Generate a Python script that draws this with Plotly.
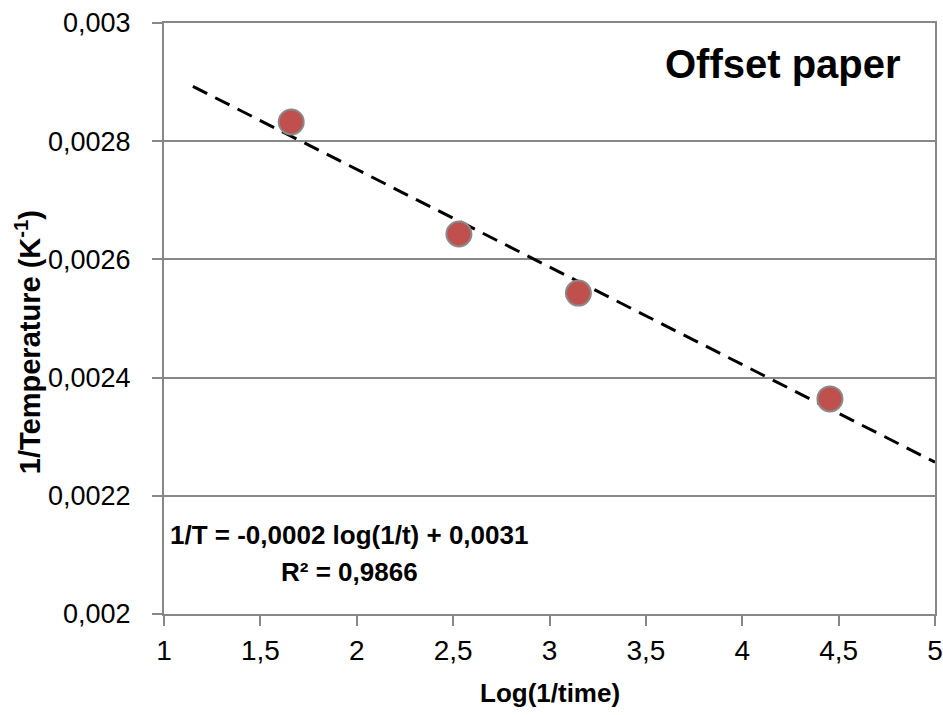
import numpy as np
import plotly.graph_objects as go

# Data
log_inv_time = [1.66, 2.53, 3.15, 4.455]
inv_temp = [0.0028325, 0.002643, 0.002543, 0.002364]
trend_x = [1.15, 5.0]

x_tickvals = [1, 1.5, 2, 2.5, 3, 3.5, 4, 4.5, 5]
x_ticktext = ["1", "1,5", "2", "2,5", "3", "3,5", "4", "4,5", "5"]
y_tickvals = [0.002, 0.0022, 0.0024, 0.0026, 0.0028, 0.003]
y_ticktext = ["0,002", "0,0022", "0,0024", "0,0026", "0,0028", "0,003"]

slope, intercept = np.polyfit(log_inv_time, inv_temp, 1)
trend_y = [slope * v + intercept for v in trend_x]

FONT = "Liberation Sans Narrow, Arial Narrow, Liberation Sans, Arial, sans-serif"
GRID = "#878787"

fig = go.Figure()
fig.add_trace(go.Scatter(
    x=trend_x, y=trend_y, mode="lines",
    line=dict(color="black", width=3, dash="16px,9px"),
    showlegend=False, hoverinfo="skip"))
fig.add_trace(go.Scatter(
    x=log_inv_time, y=inv_temp, mode="markers",
    marker=dict(size=25, color="#C0504D", line=dict(color="#8A8A8A", width=2)),
    showlegend=False))

fig.update_layout(
    width=943, height=715,
    margin=dict(l=164, r=8, t=23, b=101),
    paper_bgcolor="white", plot_bgcolor="white",
    font=dict(family=FONT, size=27, color="black"),
    xaxis=dict(
        range=[1, 5], tickvals=x_tickvals, ticktext=x_ticktext,
        showgrid=False, zeroline=False, automargin=False,
        showline=True, linecolor=GRID, linewidth=2, mirror=True,
        ticks="outside", ticklen=10, tickcolor=GRID, tickwidth=2,
        tickfont=dict(size=28), ticklabelstandoff=0,
    ),
    yaxis=dict(
        range=[0.002, 0.003], tickvals=y_tickvals, ticktext=y_ticktext,
        showgrid=True, gridcolor=GRID, gridwidth=1.5, zeroline=False, automargin=False,
        showline=True, linecolor=GRID, linewidth=2, mirror=True,
        ticks="outside", ticklen=10, tickcolor=GRID, tickwidth=2,
        tickfont=dict(size=27), ticklabelstandoff=16,
    ),
    annotations=[
        dict(text="<b>Log(1/time)</b>", x=0.5, y=(614 - 693) / 591, xref="paper", yref="paper",
             yanchor="middle", showarrow=False, font=dict(size=26)),
        dict(text="<b>1/Temperature (K<sup>-1</sup>)</b>", x=-0.1764, y=0.46,
             xref="paper", yref="paper", textangle=-90,
             xanchor="center", yanchor="middle", showarrow=False, font=dict(size=29)),
        dict(text="<b>Offset paper</b>", x=0.9585, y=0.93, xref="paper", yref="paper",
             xanchor="right", yanchor="middle", showarrow=False, font=dict(size=40)),
        dict(text="<b>1/T = -0,0002 log(1/t) + 0,0031</b>",
             x=0.2395, y=0.1337, xref="paper", yref="paper",
             xanchor="center", yanchor="middle", showarrow=False, font=dict(size=26)),
        dict(text="<b>R² = 0,9866</b>",
             x=0.2412, y=0.0711, xref="paper", yref="paper",
             xanchor="center", yanchor="middle", showarrow=False, font=dict(size=26)),
    ],
)

fig.write_html("out.html")
